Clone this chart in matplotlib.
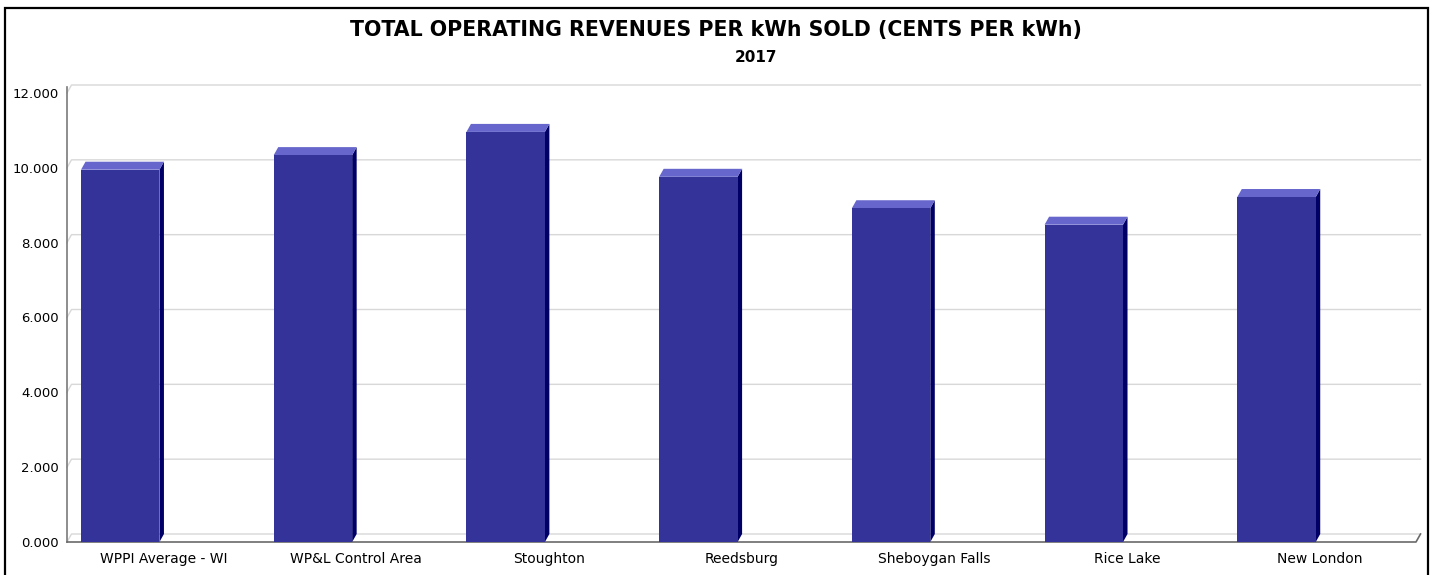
import matplotlib
matplotlib.use("Agg")
import matplotlib.pyplot as plt
from matplotlib.patches import Polygon, Rectangle

# data (cents per kWh, 2017)
places = ["WPPI Average - WI", "WP&L Control Area", "Stoughton", "Reedsburg",
          "Sheboygan Falls", "Rice Lake", "New London"]
revenue = [9.95, 10.34, 10.96, 9.76, 8.92, 8.48, 9.22]
yticks = [0, 2, 4, 6, 8, 10, 12]

W, H = 1433, 575
fig = plt.figure(figsize=(W / 100, H / 100), dpi=100)
ax = fig.add_axes([67 / W, 33 / H, (1416 - 67) / W, (542 - 93) / H])
ax.set_xlim(-0.5, len(places) - 0.5)
ax.set_ylim(0, 12)
for s in ax.spines.values():
    s.set_visible(False)

# depth of the fake 3d look, pixels -> data units
px_x = (1416 - 67) / len(places)
px_y = (542 - 93) / 12
ddx = 4.5 / px_x
ddy = 8 / px_y
x0, x1 = ax.get_xlim()

# back wall gridlines with little diagonal at the left
for v in yticks:
    ax.plot([x0, x0 + ddx, x1 + ddx], [v, v + ddy, v + ddy],
            color="#d8d8d8", lw=1.0, clip_on=False, zorder=1)
# axis lines
ax.plot([x0, x0], [0, 12 + ddy * 0.7], color="#7a7a7a", lw=1.2, clip_on=False, zorder=2)
ax.plot([x0, x1, x1 + ddx], [0, 0, ddy], color="#6a6a6a", lw=1.2, clip_on=False, zorder=2)

# bars: front face + side + top
off = 0.0727
bw = 0.407
for i, v in enumerate(revenue):
    xl = i - 0.5 + off
    xr = xl + bw
    ax.bar(xl, v, width=bw, align="edge", color="#333399", zorder=4)
    ax.add_patch(Polygon([(xr, 0), (xr + ddx, ddy), (xr + ddx, v + ddy), (xr, v)],
                         closed=True, facecolor="#000066", edgecolor="none", zorder=3))
    ax.add_patch(Polygon([(xl, v), (xl + ddx, v + ddy), (xr + ddx, v + ddy), (xr, v)],
                         closed=True, facecolor="#6666cc", edgecolor="none", zorder=3))

ax.set_yticks(yticks)
ax.set_yticklabels(["%.3f" % t for t in yticks], fontsize=9.5)
ax.set_xticks(range(len(places)))
ax.set_xticklabels(places, fontsize=10)
ax.tick_params(axis="both", length=0)
ax.tick_params(axis="y", pad=6)
ax.tick_params(axis="x", pad=7.5)

fig.text(0.4997, 1 - 30 / H, "TOTAL OPERATING REVENUES PER kWh SOLD (CENTS PER kWh)",
         ha="center", va="center", fontsize=14.8, fontweight="bold")
fig.text(756 / W, 1 - 58 / H, "2017", ha="center", va="center", fontsize=11, fontweight="bold")

# outer frame (bottom edge runs off the image)
fig.patches.append(Rectangle((5 / W, -0.05), (1428 - 5) / W, 1.05 - 8 / H,
                             transform=fig.transFigure, fill=False,
                             edgecolor="black", lw=1.6))

fig.savefig("out.png", dpi=100)
